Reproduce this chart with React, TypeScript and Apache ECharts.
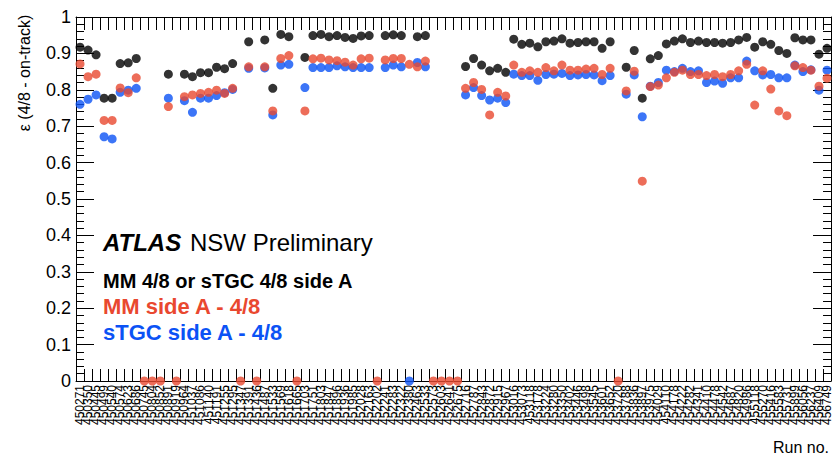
import React, { useEffect, useRef } from "react";
import * as echarts from "echarts";

const runs: string[] = [
  "450271", "450350", "450445", "450499", "450540", "450574", "450623", "450686", "450745", "450804",
  "450852", "450891", "450919", "450964", "451037", "451086", "451140", "451191", "451255", "451295",
  "451347", "451391", "451436", "451487", "451533", "451569", "451618", "451665", "451703", "451751",
  "451803", "451847", "451896", "451936", "451985", "452028", "452163", "452202", "452241", "452283",
  "452322", "452380", "452463", "452533", "452573", "452603", "452641", "452675", "452716", "452787",
  "452843", "452872", "452915", "452967", "453016", "453073", "453118", "453178", "453224", "453280",
  "453350", "453402", "453446", "453498", "453545", "453601", "453652", "453720", "453788", "453836",
  "453897", "453975", "454029", "454110", "454178", "454222", "454282", "454341", "454410", "454478",
  "454542", "454687", "454820", "454986", "455118", "455270", "455416", "455583", "455731", "455899",
  "456056", "456237", "456409", "456749",
];

// MM 4/8 or sTGC 4/8 side A (black)
const combined: (number | string)[] = [
  0.917, 0.909, 0.896, 0.777, 0.777, 0.872, 0.874, 0.886, "-", "-",
  "-", 0.843, "-", 0.843, 0.836, 0.847, 0.847, 0.862, 0.858, 0.872,
  "-", 0.932, "-", 0.937, 0.804, 0.952, 0.946, "-", 0.889, 0.949,
  0.952, 0.946, 0.949, 0.944, 0.941, 0.948, 0.949, "-", 0.949, 0.951,
  0.949, "-", 0.946, 0.949, "-", "-", "-", "-", 0.864, 0.886,
  0.868, 0.852, 0.859, 0.848, 0.939, 0.925, 0.928, 0.918, 0.932, 0.934,
  0.940, 0.928, 0.930, 0.932, 0.932, 0.914, 0.932, "-", 0.862, 0.908,
  0.777, 0.885, 0.894, 0.926, 0.934, 0.940, 0.930, 0.934, 0.930, 0.930,
  0.928, 0.930, 0.937, 0.944, 0.917, 0.932, 0.925, 0.908, 0.900, 0.943,
  0.937, 0.937, 0.898, 0.914,
];

// MM side A - 4/8 (red)
const mmSideA: (number | string)[] = [
  0.871, 0.836, 0.843, 0.716, 0.716, 0.805, 0.792, 0.833, 0, 0,
  0, 0.754, 0, 0.781, 0.786, 0.790, 0.793, 0.799, 0.790, 0.804,
  0, 0.863, 0, 0.863, 0.742, 0.886, 0.894, 0, 0.742, 0.885,
  0.887, 0.882, 0.880, 0.876, 0.868, 0.885, 0.887, 0, 0.882, 0.886,
  0.886, 0.870, 0.863, 0.879, 0, 0, 0, 0, 0.804, 0.820,
  0.801, 0.731, 0.793, 0.783, 0.868, 0.848, 0.852, 0.848, 0.861, 0.852,
  0.868, 0.854, 0.854, 0.857, 0.859, 0.842, 0.859, 0, 0.797, 0.851,
  0.549, 0.809, 0.813, 0.833, 0.848, 0.854, 0.842, 0.842, 0.839, 0.842,
  0.836, 0.842, 0.852, 0.870, 0.758, 0.852, 0.802, 0.742, 0.729, 0.866,
  0.861, 0.854, 0.810, 0.832,
];

// sTGC side A - 4/8 (blue)
const stgcSideA: (number | string)[] = [
  0.760, 0.774, 0.786, 0.671, 0.665, 0.793, 0.799, 0.804, "-", "-",
  "-", 0.777, "-", 0.770, 0.738, 0.777, 0.777, 0.784, 0.792, 0.801,
  "-", 0.859, "-", 0.860, 0.731, 0.868, 0.870, "-", 0.806, 0.861,
  0.861, 0.861, 0.866, 0.863, 0.861, 0.861, 0.861, "-", 0.861, 0.868,
  0.863, 0, 0.875, 0.863, "-", "-", "-", "-", 0.786, 0.806,
  0.784, 0.772, 0.777, 0.765, 0.843, 0.839, 0.839, 0.826, 0.842, 0.843,
  0.845, 0.839, 0.841, 0.842, 0.841, 0.825, 0.839, "-", 0.788, 0.841,
  0.726, 0.810, 0.820, 0.854, 0.850, 0.859, 0.850, 0.852, 0.820, 0.824,
  0.818, 0.833, 0.833, 0.879, 0.852, 0.841, 0.842, 0.833, 0.833, 0.868,
  0.850, 0.855, 0.799, 0.854,
];

const FONT = '"Liberation Sans", Arial, Helvetica, sans-serif';
const RED = "#e9482f";
const BLUE = "#0b52f5";

export default function App() {
  const ref = useRef<HTMLDivElement>(null);
  useEffect(() => {
    if (!ref.current) return;
    const chart = echarts.init(ref.current, undefined, { renderer: "svg" });
    const yAxisCommon = {
      type: "value" as const,
      min: 0,
      max: 1,
      interval: 0.1,
      axisLine: { show: true, lineStyle: { color: "#000", width: 1 } },
      axisTick: { show: true, inside: true, length: 18, lineStyle: { color: "#000" } },
      minorTick: { show: true, splitNumber: 5, length: 8, lineStyle: { color: "#000" } },
      splitLine: { show: false },
    };
    chart.setOption({
      animation: false,
      backgroundColor: "#fff",
      textStyle: { fontFamily: FONT },
      grid: { left: 76, top: 17, width: 756, height: 364, containLabel: false },
      xAxis: [
        {
          type: "category",
          data: runs,
          position: "bottom",
          boundaryGap: true,
          axisLine: { show: true, onZero: false, lineStyle: { color: "#000", width: 1 } },
          axisTick: { show: true, inside: true, length: 12, interval: 0, lineStyle: { color: "#000" } },
          axisLabel: {
            show: true,
            interval: 0,
            rotate: 90,
            fontSize: 12,
            color: "#000",
            margin: 4,
            fontFamily: FONT,
          },
          splitLine: { show: false },
        },
        {
          type: "category",
          data: runs,
          position: "top",
          boundaryGap: true,
          axisLine: { show: true, onZero: false, lineStyle: { color: "#000", width: 1 } },
          axisTick: { show: true, inside: true, length: 13, interval: 0, lineStyle: { color: "#000" } },
          axisLabel: { show: false },
          splitLine: { show: false },
        },
      ],
      yAxis: [
        {
          ...yAxisCommon,
          position: "left",
          axisLabel: {
            show: true,
            fontSize: 18,
            color: "#000",
            margin: 5,
            fontFamily: FONT,
            formatter: (v: number) => (v === 0 || v === 1 ? String(v) : v.toFixed(1)),
          },
        },
        {
          ...yAxisCommon,
          position: "right",
          axisLabel: { show: false },
        },
      ],
      series: [
        {
          name: "MM 4/8 or sTGC 4/8 side A",
          type: "scatter",
          data: combined,
          symbol: "circle",
          symbolSize: 9,
          itemStyle: { color: "#000" },
          z: 3,
        },
        {
          name: "sTGC side A - 4/8",
          type: "scatter",
          data: stgcSideA,
          symbol: "circle",
          symbolSize: 9,
          itemStyle: { color: BLUE },
          z: 4,
        },
        {
          name: "MM side A - 4/8",
          type: "scatter",
          data: mmSideA,
          symbol: "circle",
          symbolSize: 9,
          itemStyle: { color: RED },
          z: 5,
        },
      ],
      graphic: [
        {
          type: "text",
          x: 24,
          y: 73,
          rotation: Math.PI / 2,
          style: { text: "ε (4/8 - on-track)", font: `16px ${FONT}`, fill: "#000", align: "center", verticalAlign: "middle" },
        },
        {
          type: "text",
          x: 103,
          y: 242,
          style: { text: "ATLAS", font: `italic bold 24px ${FONT}`, fill: "#000", align: "left", verticalAlign: "middle" },
        },
        {
          type: "text",
          x: 190,
          y: 242,
          style: { text: "NSW Preliminary", font: `24px ${FONT}`, fill: "#000", align: "left", verticalAlign: "middle" },
        },
        {
          type: "text",
          x: 103,
          y: 281,
          style: { text: "MM 4/8 or sTGC 4/8 side A", font: `bold 20px ${FONT}`, fill: "#000", align: "left", verticalAlign: "middle" },
        },
        {
          type: "text",
          x: 103,
          y: 306,
          style: { text: "MM side A - 4/8", font: `bold 22px ${FONT}`, fill: RED, align: "left", verticalAlign: "middle" },
        },
        {
          type: "text",
          x: 103,
          y: 332,
          style: { text: "sTGC side A - 4/8", font: `bold 22px ${FONT}`, fill: BLUE, align: "left", verticalAlign: "middle" },
        },
        {
          type: "text",
          x: 829,
          y: 447,
          style: { text: "Run no.", font: `16px ${FONT}`, fill: "#000", align: "right", verticalAlign: "middle" },
        },
      ],
    });
    return () => chart.dispose();
  }, []);
  return (
    <div
      ref={ref}
      style={{ position: "absolute", left: 0, top: 0, width: 833, height: 455, background: "#fff" }}
    />
  );
}
